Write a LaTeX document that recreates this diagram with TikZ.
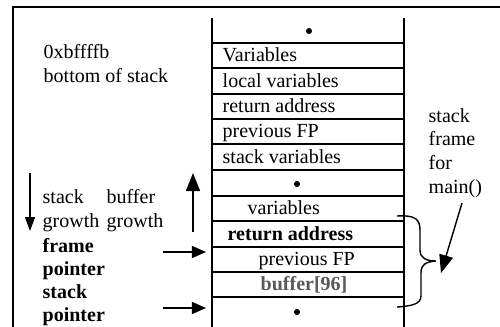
\documentclass[tikz,border=0pt]{standalone}
\usepackage{fontspec}
\setmainfont{Liberation Serif}
\usetikzlibrary{arrows.meta}

\begin{document}
\begin{tikzpicture}[x=0.5pt,y=-0.5pt,line width=0.7pt,
        lbl/.style={anchor=base west,inner sep=0pt,font=\fontsize{10}{12}\selectfont},
        bold/.style={lbl,font=\fontsize{10}{12}\selectfont\bfseries},
        dot/.style={circle,fill,inner sep=0pt,minimum size=3pt},
        tip/.style={-{Triangle[length=7pt,width=6pt]}}]
            \useasboundingbox (0,0) rectangle (500,327);

            % outer frame
            \draw (13,327) -- (13,7) -- (500,7);

            % stack column
            \draw (212,18) -- (212,327);
            \draw (404,18) -- (404,327);
            \foreach \y in {43,68,94,119,144,170,196,221,247,272,297}
                \draw (212,\y) -- (404,\y);

            \node [dot] (dot1) at (309,31) {};
            \node [lbl] (vars1) at (222,61.5) {Variables};
            \node [lbl] (local) at (222,87.5) {local variables};
            \node [lbl] (ret1) at (222,112.5) {return address};
            \node [lbl] (fp1) at (222,137.5) {previous FP};
            \node [lbl] (stvars) at (222,163.5) {stack variables};
            \node [dot] (dot2) at (297,184) {};
            \node [lbl] (vars2) at (247,214.5) {variables};
            \node [bold] (ret2) at (227,240.5) {return address};
            \node [lbl] (fp2) at (258,265.5) {previous FP};
            \node [bold,text=black!65] (buf) at (260,290.5) {buffer[96]};
            \node [dot] (dot3) at (297,312) {};

            % left labels
            \node [lbl] (addr) at (43,58) {0xbffffb};
            \node [lbl] (bottom) at (43,82) {bottom of stack};
            \node [lbl] (stk) at (42,203) {stack};
            \node [lbl] (grow1) at (42,227) {growth};
            \node [lbl] (bufw) at (106,203) {buffer};
            \node [lbl] (grow2) at (106,227) {growth};
            \node [bold] (frame) at (42,252) {frame};
            \node [bold] (ptr1) at (42,275) {pointer};
            \node [bold] (stk2) at (42,298) {stack};
            \node [bold] (ptr2) at (42,321) {pointer};

            % right labels
            \node [lbl] (sf1) at (428,122) {stack};
            \node [lbl] (sf2) at (428,145.5) {frame};
            \node [lbl] (sf3) at (428,169) {for};
            \node [lbl] (sf4) at (428,193) {main()};

            % arrows
            \coordinate (dnA) at (30,173);
            \coordinate (dnB) at (30,231);
            \coordinate (upA) at (193,232);
            \coordinate (upB) at (193,173);
            \coordinate (fpA) at (163,252);
            \coordinate (fpB) at (206,252);
            \coordinate (spA) at (163,308);
            \coordinate (spB) at (206,308);
            \draw [-{Triangle[length=7pt,width=5pt]}] (dnA) -- (dnB);
            \draw [-{Triangle[length=9pt,width=7pt]}] (upA) -- (upB);
            \draw [tip] (fpA) -- (fpB);
            \draw [tip] (spA) -- (spB);

            % brace
            \coordinate (brTop) at (397,216);
            \coordinate (brBot) at (397,307);
            \coordinate (brMid) at (436,261);
            \draw (brTop) .. controls (415,215) and (420,219) .. (420,230)
                -- (420,250) .. controls (420,258) and (426,261) .. (brMid)
                .. controls (426,262) and (421,264) .. (421,273)
                -- (421,296) .. controls (421,304) and (412,306) .. (brBot);
            \coordinate (mArrA) at (462,203);
            \coordinate (mArrB) at (441,273);
            \draw [-{Triangle[length=9pt,width=7pt]}] (mArrA) -- (mArrB);
        \end{tikzpicture}
\end{document}
